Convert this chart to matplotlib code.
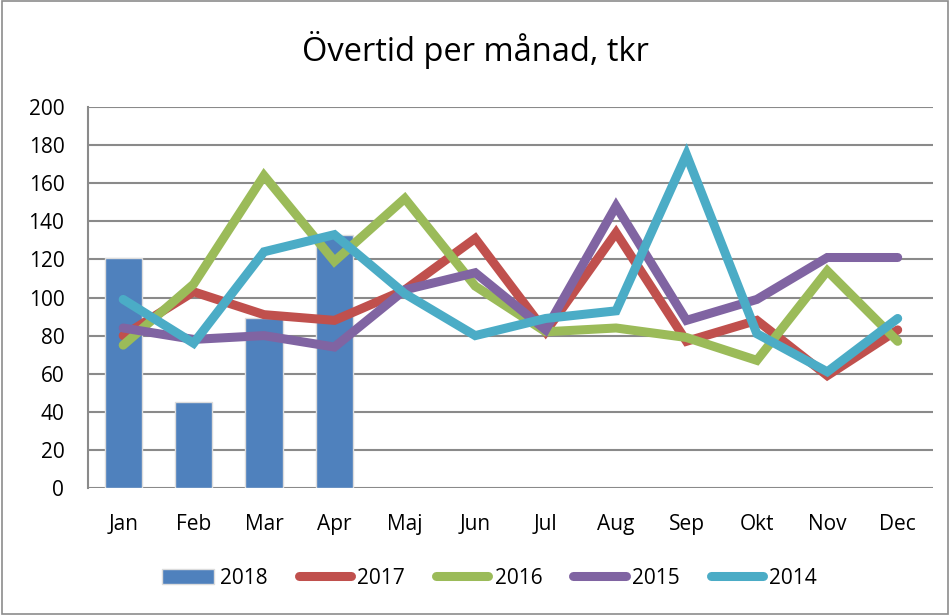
import matplotlib
matplotlib.use("Agg")
import matplotlib.pyplot as plt
from matplotlib.patches import Rectangle
import numpy as np

plt.rcParams['font.family'] = ['Open Sans', 'DejaVu Sans']

months = ["Jan", "Feb", "Mar", "Apr", "Maj", "Jun", "Jul", "Aug", "Sep", "Okt", "Nov", "Dec"]
v2018 = [121, 45, 89, 133]
v2017 = [80, 103, 91, 88, 104, 131, 82, 134, 77, 88, 59, 83]
v2016 = [75, 107, 164, 119, 152, 106, 82, 84, 79, 67, 114, 77]
v2015 = [84, 78, 80, 74, 104, 113, 83, 148, 88, 99, 121, 121]
v2014 = [99, 76, 124, 133, 102, 80, 89, 93, 175, 81, 61, 89]
yticks = list(range(0, 201, 20))

c2018 = "#4F81BD"
c2017 = "#C0504D"
c2016 = "#9BBB59"
c2015 = "#8064A2"
c2014 = "#4BACC6"

fig = plt.figure(figsize=(9.5, 6.15), dpi=100)
fig.patches.append(Rectangle((0.002, 0.002), 0.996, 0.996, transform=fig.transFigure,
                             fill=False, edgecolor="#8c8c8c", linewidth=1.2))
ax = fig.add_axes([0.0926, 0.2065, 0.8894, 0.6195])

x = np.arange(len(months))
ax.bar(x[:len(v2018)], v2018, width=0.53, color=c2018, edgecolor="#dcdcdc",
       linewidth=1.0, label="2018", zorder=3)
lw = 6.5
for vals, col, lab in [(v2017, c2017, "2017"), (v2016, c2016, "2016"),
                       (v2015, c2015, "2015"), (v2014, c2014, "2014")]:
    ax.plot(x, vals, color=col, linewidth=lw, solid_capstyle="round",
            solid_joinstyle="miter", label=lab, zorder=4)

ax.set_xlim(-0.5, len(months) - 0.5)
ax.set_ylim(0, 200)
ax.set_yticks(yticks)
ax.set_xticks(x)
ax.set_xticklabels(months)
ax.yaxis.grid(True, color="#8a8a8a", linewidth=1.5, zorder=0)
ax.set_axisbelow(True)
for s in ["top", "right", "bottom"]:
    ax.spines[s].set_visible(False)
ax.spines["left"].set_color("#8a8a8a")
ax.spines["left"].set_linewidth(1.5)
ax.tick_params(axis="both", length=0, labelsize=15, colors="#000000")
ax.tick_params(axis="x", pad=19)
ax.tick_params(axis="y", pad=17)

fig.text(0.5, 0.918, "Övertid per månad, tkr", ha="center", va="center", fontsize=23.5)

handles, labels = ax.get_legend_handles_labels()
order = [4, 0, 1, 2, 3]
leg = fig.legend([handles[i] for i in order], [labels[i] for i in order],
                 loc="center", bbox_to_anchor=(0.515, 0.06), ncol=5, frameon=False,
                 fontsize=15, handlelength=2.5, handletextpad=0.3, columnspacing=1.5)

fig.savefig("out.png", dpi=100)
